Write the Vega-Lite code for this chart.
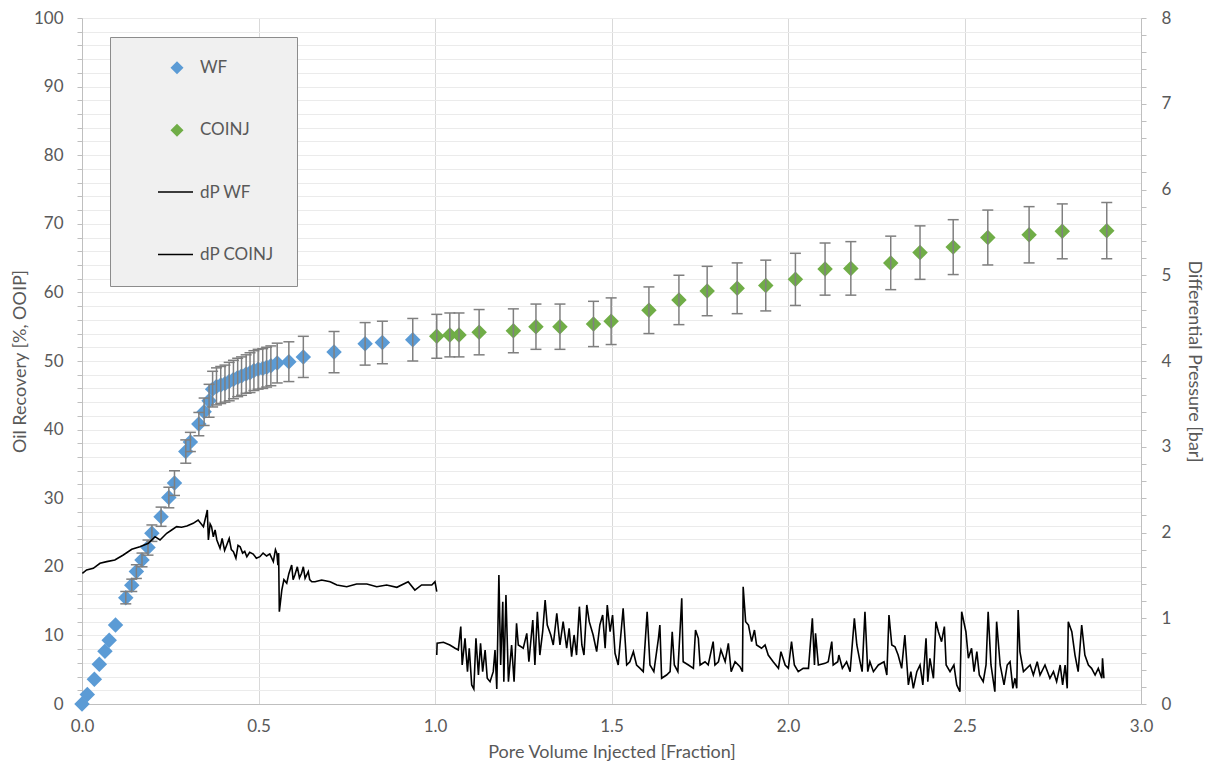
{
  "$schema": "https://vega.github.io/schema/vega-lite/v6.json",
  "width": 1059,
  "height": 686,
  "autosize": {"type": "none"},
  "padding": {"left": 82, "top": 18, "right": 69, "bottom": 61},
  "background": "white",
  "config": {
    "view": {"stroke": null},
    "scale": {"continuousPadding": 0},
    "axis": {
      "labelFont": "Lato", "titleFont": "Lato",
      "labelColor": "#595959", "titleColor": "#595959",
      "labelFontSize": 17, "titleFontSize": 18, "titleFontWeight": "normal",
      "domainColor": "#bfbfbf", "tickColor": "#bfbfbf", "gridColor": "#e6e6e6",
      "labelOverlap": false, "labelFlush": false
    },
    "legend": {"labelFont": "Lato", "labelFontSize": 17, "labelColor": "#595959"}
  },
  "datasets": {
    "rec": [
      {"x":0.000,"y":0.0,"lo":0.0,"hi":0.0,"series":"WF"},
      {"x":0.015,"y":1.4,"lo":1.4,"hi":1.4,"series":"WF"},
      {"x":0.035,"y":3.6,"lo":3.6,"hi":3.6,"series":"WF"},
      {"x":0.049,"y":5.8,"lo":5.8,"hi":5.8,"series":"WF"},
      {"x":0.065,"y":7.7,"lo":7.7,"hi":7.7,"series":"WF"},
      {"x":0.077,"y":9.3,"lo":9.3,"hi":9.3,"series":"WF"},
      {"x":0.095,"y":11.5,"lo":11.5,"hi":11.5,"series":"WF"},
      {"x":0.124,"y":15.5,"lo":14.6,"hi":16.4,"series":"WF"},
      {"x":0.141,"y":17.3,"lo":16.4,"hi":18.2,"series":"WF"},
      {"x":0.154,"y":19.3,"lo":18.3,"hi":20.3,"series":"WF"},
      {"x":0.170,"y":21.0,"lo":20.0,"hi":22.0,"series":"WF"},
      {"x":0.187,"y":22.8,"lo":21.7,"hi":23.9,"series":"WF"},
      {"x":0.198,"y":24.9,"lo":23.7,"hi":26.1,"series":"WF"},
      {"x":0.224,"y":27.3,"lo":25.9,"hi":28.7,"series":"WF"},
      {"x":0.246,"y":30.1,"lo":28.6,"hi":31.6,"series":"WF"},
      {"x":0.262,"y":32.2,"lo":30.4,"hi":34.0,"series":"WF"},
      {"x":0.294,"y":36.8,"lo":35.1,"hi":38.5,"series":"WF"},
      {"x":0.307,"y":38.2,"lo":36.8,"hi":39.6,"series":"WF"},
      {"x":0.331,"y":40.8,"lo":39.1,"hi":42.5,"series":"WF"},
      {"x":0.346,"y":42.6,"lo":40.6,"hi":44.6,"series":"WF"},
      {"x":0.360,"y":44.2,"lo":41.8,"hi":46.6,"series":"WF"},
      {"x":0.370,"y":45.9,"lo":43.3,"hi":48.5,"series":"WF"},
      {"x":0.381,"y":46.3,"lo":43.6,"hi":49.0,"series":"WF"},
      {"x":0.393,"y":46.5,"lo":43.8,"hi":49.2,"series":"WF"},
      {"x":0.405,"y":46.7,"lo":44.0,"hi":49.4,"series":"WF"},
      {"x":0.417,"y":47.0,"lo":44.2,"hi":49.8,"series":"WF"},
      {"x":0.429,"y":47.3,"lo":44.5,"hi":50.1,"series":"WF"},
      {"x":0.441,"y":47.6,"lo":44.8,"hi":50.4,"series":"WF"},
      {"x":0.452,"y":47.8,"lo":45.0,"hi":50.6,"series":"WF"},
      {"x":0.465,"y":48.1,"lo":45.3,"hi":50.9,"series":"WF"},
      {"x":0.476,"y":48.3,"lo":45.4,"hi":51.2,"series":"WF"},
      {"x":0.487,"y":48.6,"lo":45.7,"hi":51.5,"series":"WF"},
      {"x":0.499,"y":48.8,"lo":45.9,"hi":51.7,"series":"WF"},
      {"x":0.512,"y":48.9,"lo":46.0,"hi":51.8,"series":"WF"},
      {"x":0.523,"y":49.1,"lo":46.2,"hi":52.0,"series":"WF"},
      {"x":0.535,"y":49.3,"lo":46.4,"hi":52.2,"series":"WF"},
      {"x":0.553,"y":49.7,"lo":46.8,"hi":52.6,"series":"WF"},
      {"x":0.586,"y":49.9,"lo":47.0,"hi":52.8,"series":"WF"},
      {"x":0.627,"y":50.6,"lo":47.6,"hi":53.6,"series":"WF"},
      {"x":0.714,"y":51.3,"lo":48.3,"hi":54.3,"series":"WF"},
      {"x":0.802,"y":52.5,"lo":49.4,"hi":55.6,"series":"WF"},
      {"x":0.851,"y":52.7,"lo":49.6,"hi":55.8,"series":"WF"},
      {"x":0.937,"y":53.1,"lo":50.0,"hi":56.2,"series":"WF"},
      {"x":1.005,"y":53.6,"lo":50.4,"hi":56.8,"series":"COINJ"},
      {"x":1.042,"y":53.8,"lo":50.6,"hi":57.0,"series":"COINJ"},
      {"x":1.068,"y":53.8,"lo":50.6,"hi":57.0,"series":"COINJ"},
      {"x":1.125,"y":54.2,"lo":50.9,"hi":57.5,"series":"COINJ"},
      {"x":1.222,"y":54.4,"lo":51.2,"hi":57.6,"series":"COINJ"},
      {"x":1.286,"y":55.0,"lo":51.7,"hi":58.3,"series":"COINJ"},
      {"x":1.354,"y":55.0,"lo":51.7,"hi":58.3,"series":"COINJ"},
      {"x":1.449,"y":55.4,"lo":52.1,"hi":58.7,"series":"COINJ"},
      {"x":1.499,"y":55.8,"lo":52.4,"hi":59.2,"series":"COINJ"},
      {"x":1.606,"y":57.4,"lo":54.0,"hi":60.8,"series":"COINJ"},
      {"x":1.691,"y":58.9,"lo":55.3,"hi":62.5,"series":"COINJ"},
      {"x":1.771,"y":60.2,"lo":56.6,"hi":63.8,"series":"COINJ"},
      {"x":1.856,"y":60.6,"lo":56.9,"hi":64.3,"series":"COINJ"},
      {"x":1.937,"y":61.0,"lo":57.3,"hi":64.7,"series":"COINJ"},
      {"x":2.021,"y":61.9,"lo":58.1,"hi":65.7,"series":"COINJ"},
      {"x":2.105,"y":63.4,"lo":59.6,"hi":67.2,"series":"COINJ"},
      {"x":2.178,"y":63.5,"lo":59.6,"hi":67.4,"series":"COINJ"},
      {"x":2.291,"y":64.3,"lo":60.4,"hi":68.2,"series":"COINJ"},
      {"x":2.374,"y":65.8,"lo":61.9,"hi":69.7,"series":"COINJ"},
      {"x":2.468,"y":66.6,"lo":62.6,"hi":70.6,"series":"COINJ"},
      {"x":2.566,"y":68.0,"lo":64.0,"hi":72.0,"series":"COINJ"},
      {"x":2.683,"y":68.4,"lo":64.3,"hi":72.5,"series":"COINJ"},
      {"x":2.777,"y":68.9,"lo":64.9,"hi":72.9,"series":"COINJ"},
      {"x":2.903,"y":69.0,"lo":64.9,"hi":73.1,"series":"COINJ"}
    ],
    "dp": [
      {"x":0.001,"dp":1.524,"series":"dP WF"},
      {"x":0.013,"dp":1.563,"series":"dP WF"},
      {"x":0.032,"dp":1.582,"series":"dP WF"},
      {"x":0.051,"dp":1.641,"series":"dP WF"},
      {"x":0.070,"dp":1.660,"series":"dP WF"},
      {"x":0.093,"dp":1.679,"series":"dP WF"},
      {"x":0.117,"dp":1.738,"series":"dP WF"},
      {"x":0.141,"dp":1.804,"series":"dP WF"},
      {"x":0.164,"dp":1.834,"series":"dP WF"},
      {"x":0.188,"dp":1.874,"series":"dP WF"},
      {"x":0.207,"dp":1.951,"series":"dP WF"},
      {"x":0.221,"dp":1.913,"series":"dP WF"},
      {"x":0.240,"dp":1.991,"series":"dP WF"},
      {"x":0.254,"dp":2.029,"series":"dP WF"},
      {"x":0.268,"dp":2.068,"series":"dP WF"},
      {"x":0.282,"dp":2.061,"series":"dP WF"},
      {"x":0.297,"dp":2.076,"series":"dP WF"},
      {"x":0.315,"dp":2.107,"series":"dP WF"},
      {"x":0.329,"dp":2.146,"series":"dP WF"},
      {"x":0.344,"dp":2.068,"series":"dP WF"},
      {"x":0.353,"dp":2.224,"series":"dP WF"},
      {"x":0.355,"dp":2.262,"series":"dP WF"},
      {"x":0.358,"dp":1.913,"series":"dP WF"},
      {"x":0.363,"dp":2.100,"series":"dP WF"},
      {"x":0.367,"dp":2.068,"series":"dP WF"},
      {"x":0.372,"dp":1.950,"series":"dP WF"},
      {"x":0.377,"dp":2.030,"series":"dP WF"},
      {"x":0.382,"dp":1.913,"series":"dP WF"},
      {"x":0.391,"dp":1.816,"series":"dP WF"},
      {"x":0.397,"dp":1.930,"series":"dP WF"},
      {"x":0.404,"dp":1.790,"series":"dP WF"},
      {"x":0.410,"dp":1.854,"series":"dP WF"},
      {"x":0.417,"dp":1.930,"series":"dP WF"},
      {"x":0.423,"dp":1.800,"series":"dP WF"},
      {"x":0.429,"dp":1.776,"series":"dP WF"},
      {"x":0.436,"dp":1.700,"series":"dP WF"},
      {"x":0.442,"dp":1.850,"series":"dP WF"},
      {"x":0.448,"dp":1.834,"series":"dP WF"},
      {"x":0.455,"dp":1.760,"series":"dP WF"},
      {"x":0.461,"dp":1.780,"series":"dP WF"},
      {"x":0.467,"dp":1.718,"series":"dP WF"},
      {"x":0.475,"dp":1.770,"series":"dP WF"},
      {"x":0.485,"dp":1.749,"series":"dP WF"},
      {"x":0.494,"dp":1.700,"series":"dP WF"},
      {"x":0.504,"dp":1.718,"series":"dP WF"},
      {"x":0.513,"dp":1.760,"series":"dP WF"},
      {"x":0.523,"dp":1.726,"series":"dP WF"},
      {"x":0.532,"dp":1.750,"series":"dP WF"},
      {"x":0.542,"dp":1.660,"series":"dP WF"},
      {"x":0.548,"dp":1.800,"series":"dP WF"},
      {"x":0.552,"dp":1.757,"series":"dP WF"},
      {"x":0.555,"dp":1.620,"series":"dP WF"},
      {"x":0.557,"dp":1.760,"series":"dP WF"},
      {"x":0.559,"dp":1.076,"series":"dP WF"},
      {"x":0.566,"dp":1.329,"series":"dP WF"},
      {"x":0.572,"dp":1.450,"series":"dP WF"},
      {"x":0.580,"dp":1.408,"series":"dP WF"},
      {"x":0.586,"dp":1.520,"series":"dP WF"},
      {"x":0.594,"dp":1.621,"series":"dP WF"},
      {"x":0.598,"dp":1.450,"series":"dP WF"},
      {"x":0.603,"dp":1.504,"series":"dP WF"},
      {"x":0.610,"dp":1.600,"series":"dP WF"},
      {"x":0.616,"dp":1.470,"series":"dP WF"},
      {"x":0.622,"dp":1.524,"series":"dP WF"},
      {"x":0.627,"dp":1.600,"series":"dP WF"},
      {"x":0.632,"dp":1.466,"series":"dP WF"},
      {"x":0.641,"dp":1.543,"series":"dP WF"},
      {"x":0.645,"dp":1.450,"series":"dP WF"},
      {"x":0.651,"dp":1.426,"series":"dP WF"},
      {"x":0.660,"dp":1.426,"series":"dP WF"},
      {"x":0.679,"dp":1.446,"series":"dP WF"},
      {"x":0.703,"dp":1.426,"series":"dP WF"},
      {"x":0.722,"dp":1.388,"series":"dP WF"},
      {"x":0.750,"dp":1.368,"series":"dP WF"},
      {"x":0.778,"dp":1.399,"series":"dP WF"},
      {"x":0.807,"dp":1.399,"series":"dP WF"},
      {"x":0.835,"dp":1.368,"series":"dP WF"},
      {"x":0.863,"dp":1.388,"series":"dP WF"},
      {"x":0.892,"dp":1.361,"series":"dP WF"},
      {"x":0.924,"dp":1.426,"series":"dP WF"},
      {"x":0.943,"dp":1.329,"series":"dP WF"},
      {"x":0.962,"dp":1.388,"series":"dP WF"},
      {"x":0.991,"dp":1.388,"series":"dP WF"},
      {"x":1.000,"dp":1.426,"series":"dP WF"},
      {"x":1.005,"dp":1.310,"series":"dP WF"},
      {"x":1.005,"dp":0.571,"series":"dP COINJ"},
      {"x":1.006,"dp":0.708,"series":"dP COINJ"},
      {"x":1.024,"dp":0.720,"series":"dP COINJ"},
      {"x":1.042,"dp":0.688,"series":"dP COINJ"},
      {"x":1.057,"dp":0.650,"series":"dP COINJ"},
      {"x":1.066,"dp":0.630,"series":"dP COINJ"},
      {"x":1.073,"dp":0.902,"series":"dP COINJ"},
      {"x":1.077,"dp":0.455,"series":"dP COINJ"},
      {"x":1.085,"dp":0.766,"series":"dP COINJ"},
      {"x":1.092,"dp":0.377,"series":"dP COINJ"},
      {"x":1.097,"dp":0.650,"series":"dP COINJ"},
      {"x":1.104,"dp":0.222,"series":"dP COINJ"},
      {"x":1.110,"dp":0.175,"series":"dP COINJ"},
      {"x":1.116,"dp":0.766,"series":"dP COINJ"},
      {"x":1.123,"dp":0.338,"series":"dP COINJ"},
      {"x":1.129,"dp":0.708,"series":"dP COINJ"},
      {"x":1.135,"dp":0.377,"series":"dP COINJ"},
      {"x":1.142,"dp":0.630,"series":"dP COINJ"},
      {"x":1.148,"dp":0.300,"series":"dP COINJ"},
      {"x":1.156,"dp":0.260,"series":"dP COINJ"},
      {"x":1.165,"dp":0.377,"series":"dP COINJ"},
      {"x":1.170,"dp":0.630,"series":"dP COINJ"},
      {"x":1.175,"dp":0.175,"series":"dP COINJ"},
      {"x":1.181,"dp":1.504,"series":"dP COINJ"},
      {"x":1.186,"dp":0.455,"series":"dP COINJ"},
      {"x":1.192,"dp":1.193,"series":"dP COINJ"},
      {"x":1.195,"dp":0.260,"series":"dP COINJ"},
      {"x":1.201,"dp":1.271,"series":"dP COINJ"},
      {"x":1.208,"dp":0.260,"series":"dP COINJ"},
      {"x":1.217,"dp":0.688,"series":"dP COINJ"},
      {"x":1.224,"dp":0.260,"series":"dP COINJ"},
      {"x":1.231,"dp":0.941,"series":"dP COINJ"},
      {"x":1.236,"dp":0.688,"series":"dP COINJ"},
      {"x":1.250,"dp":0.650,"series":"dP COINJ"},
      {"x":1.260,"dp":0.824,"series":"dP COINJ"},
      {"x":1.266,"dp":0.493,"series":"dP COINJ"},
      {"x":1.277,"dp":0.980,"series":"dP COINJ"},
      {"x":1.283,"dp":0.455,"series":"dP COINJ"},
      {"x":1.290,"dp":1.076,"series":"dP COINJ"},
      {"x":1.297,"dp":0.571,"series":"dP COINJ"},
      {"x":1.305,"dp":0.843,"series":"dP COINJ"},
      {"x":1.312,"dp":1.213,"series":"dP COINJ"},
      {"x":1.318,"dp":0.921,"series":"dP COINJ"},
      {"x":1.328,"dp":0.805,"series":"dP COINJ"},
      {"x":1.335,"dp":0.688,"series":"dP COINJ"},
      {"x":1.345,"dp":1.058,"series":"dP COINJ"},
      {"x":1.354,"dp":0.688,"series":"dP COINJ"},
      {"x":1.363,"dp":0.960,"series":"dP COINJ"},
      {"x":1.373,"dp":0.650,"series":"dP COINJ"},
      {"x":1.380,"dp":0.883,"series":"dP COINJ"},
      {"x":1.387,"dp":0.552,"series":"dP COINJ"},
      {"x":1.394,"dp":0.805,"series":"dP COINJ"},
      {"x":1.401,"dp":0.571,"series":"dP COINJ"},
      {"x":1.409,"dp":1.135,"series":"dP COINJ"},
      {"x":1.416,"dp":0.688,"series":"dP COINJ"},
      {"x":1.422,"dp":0.571,"series":"dP COINJ"},
      {"x":1.430,"dp":1.155,"series":"dP COINJ"},
      {"x":1.437,"dp":0.960,"series":"dP COINJ"},
      {"x":1.448,"dp":0.805,"series":"dP COINJ"},
      {"x":1.458,"dp":0.610,"series":"dP COINJ"},
      {"x":1.467,"dp":0.921,"series":"dP COINJ"},
      {"x":1.475,"dp":1.038,"series":"dP COINJ"},
      {"x":1.482,"dp":0.650,"series":"dP COINJ"},
      {"x":1.488,"dp":1.155,"series":"dP COINJ"},
      {"x":1.496,"dp":0.843,"series":"dP COINJ"},
      {"x":1.503,"dp":1.038,"series":"dP COINJ"},
      {"x":1.510,"dp":0.591,"series":"dP COINJ"},
      {"x":1.519,"dp":0.455,"series":"dP COINJ"},
      {"x":1.533,"dp":1.116,"series":"dP COINJ"},
      {"x":1.543,"dp":0.455,"series":"dP COINJ"},
      {"x":1.552,"dp":0.493,"series":"dP COINJ"},
      {"x":1.562,"dp":0.610,"series":"dP COINJ"},
      {"x":1.571,"dp":0.455,"series":"dP COINJ"},
      {"x":1.581,"dp":0.416,"series":"dP COINJ"},
      {"x":1.590,"dp":0.377,"series":"dP COINJ"},
      {"x":1.601,"dp":1.076,"series":"dP COINJ"},
      {"x":1.609,"dp":0.455,"series":"dP COINJ"},
      {"x":1.620,"dp":0.377,"series":"dP COINJ"},
      {"x":1.633,"dp":0.766,"series":"dP COINJ"},
      {"x":1.637,"dp":0.921,"series":"dP COINJ"},
      {"x":1.642,"dp":0.300,"series":"dP COINJ"},
      {"x":1.656,"dp":0.338,"series":"dP COINJ"},
      {"x":1.666,"dp":0.377,"series":"dP COINJ"},
      {"x":1.672,"dp":0.843,"series":"dP COINJ"},
      {"x":1.678,"dp":0.455,"series":"dP COINJ"},
      {"x":1.688,"dp":0.377,"series":"dP COINJ"},
      {"x":1.699,"dp":1.233,"series":"dP COINJ"},
      {"x":1.703,"dp":0.493,"series":"dP COINJ"},
      {"x":1.718,"dp":0.455,"series":"dP COINJ"},
      {"x":1.732,"dp":0.416,"series":"dP COINJ"},
      {"x":1.738,"dp":0.863,"series":"dP COINJ"},
      {"x":1.746,"dp":0.766,"series":"dP COINJ"},
      {"x":1.751,"dp":0.455,"series":"dP COINJ"},
      {"x":1.765,"dp":0.493,"series":"dP COINJ"},
      {"x":1.774,"dp":0.455,"series":"dP COINJ"},
      {"x":1.788,"dp":0.727,"series":"dP COINJ"},
      {"x":1.793,"dp":0.455,"series":"dP COINJ"},
      {"x":1.803,"dp":0.493,"series":"dP COINJ"},
      {"x":1.810,"dp":0.630,"series":"dP COINJ"},
      {"x":1.822,"dp":0.493,"series":"dP COINJ"},
      {"x":1.831,"dp":0.708,"series":"dP COINJ"},
      {"x":1.839,"dp":0.377,"series":"dP COINJ"},
      {"x":1.850,"dp":0.493,"series":"dP COINJ"},
      {"x":1.864,"dp":0.435,"series":"dP COINJ"},
      {"x":1.871,"dp":0.377,"series":"dP COINJ"},
      {"x":1.873,"dp":1.368,"series":"dP COINJ"},
      {"x":1.880,"dp":0.960,"series":"dP COINJ"},
      {"x":1.888,"dp":0.921,"series":"dP COINJ"},
      {"x":1.897,"dp":0.727,"series":"dP COINJ"},
      {"x":1.905,"dp":0.863,"series":"dP COINJ"},
      {"x":1.911,"dp":0.688,"series":"dP COINJ"},
      {"x":1.925,"dp":0.650,"series":"dP COINJ"},
      {"x":1.935,"dp":0.688,"series":"dP COINJ"},
      {"x":1.944,"dp":0.571,"series":"dP COINJ"},
      {"x":1.958,"dp":0.493,"series":"dP COINJ"},
      {"x":1.973,"dp":0.416,"series":"dP COINJ"},
      {"x":1.980,"dp":0.610,"series":"dP COINJ"},
      {"x":1.992,"dp":0.455,"series":"dP COINJ"},
      {"x":2.001,"dp":0.416,"series":"dP COINJ"},
      {"x":2.010,"dp":0.727,"series":"dP COINJ"},
      {"x":2.018,"dp":0.455,"series":"dP COINJ"},
      {"x":2.029,"dp":0.377,"series":"dP COINJ"},
      {"x":2.043,"dp":0.416,"series":"dP COINJ"},
      {"x":2.058,"dp":0.416,"series":"dP COINJ"},
      {"x":2.069,"dp":0.999,"series":"dP COINJ"},
      {"x":2.075,"dp":0.455,"series":"dP COINJ"},
      {"x":2.078,"dp":0.824,"series":"dP COINJ"},
      {"x":2.086,"dp":0.455,"series":"dP COINJ"},
      {"x":2.105,"dp":0.474,"series":"dP COINJ"},
      {"x":2.114,"dp":0.493,"series":"dP COINJ"},
      {"x":2.124,"dp":0.727,"series":"dP COINJ"},
      {"x":2.128,"dp":0.455,"series":"dP COINJ"},
      {"x":2.141,"dp":0.493,"series":"dP COINJ"},
      {"x":2.144,"dp":0.571,"series":"dP COINJ"},
      {"x":2.154,"dp":0.416,"series":"dP COINJ"},
      {"x":2.166,"dp":0.493,"series":"dP COINJ"},
      {"x":2.176,"dp":0.377,"series":"dP COINJ"},
      {"x":2.188,"dp":0.999,"series":"dP COINJ"},
      {"x":2.195,"dp":0.688,"series":"dP COINJ"},
      {"x":2.204,"dp":0.493,"series":"dP COINJ"},
      {"x":2.210,"dp":0.377,"series":"dP COINJ"},
      {"x":2.218,"dp":1.076,"series":"dP COINJ"},
      {"x":2.226,"dp":0.377,"series":"dP COINJ"},
      {"x":2.232,"dp":0.493,"series":"dP COINJ"},
      {"x":2.242,"dp":0.377,"series":"dP COINJ"},
      {"x":2.256,"dp":0.455,"series":"dP COINJ"},
      {"x":2.272,"dp":0.493,"series":"dP COINJ"},
      {"x":2.280,"dp":0.338,"series":"dP COINJ"},
      {"x":2.286,"dp":1.038,"series":"dP COINJ"},
      {"x":2.294,"dp":0.688,"series":"dP COINJ"},
      {"x":2.303,"dp":0.668,"series":"dP COINJ"},
      {"x":2.312,"dp":0.571,"series":"dP COINJ"},
      {"x":2.322,"dp":0.416,"series":"dP COINJ"},
      {"x":2.331,"dp":0.805,"series":"dP COINJ"},
      {"x":2.341,"dp":0.222,"series":"dP COINJ"},
      {"x":2.348,"dp":0.377,"series":"dP COINJ"},
      {"x":2.355,"dp":0.183,"series":"dP COINJ"},
      {"x":2.365,"dp":0.377,"series":"dP COINJ"},
      {"x":2.374,"dp":0.455,"series":"dP COINJ"},
      {"x":2.382,"dp":0.222,"series":"dP COINJ"},
      {"x":2.391,"dp":0.766,"series":"dP COINJ"},
      {"x":2.396,"dp":0.260,"series":"dP COINJ"},
      {"x":2.402,"dp":0.533,"series":"dP COINJ"},
      {"x":2.412,"dp":0.300,"series":"dP COINJ"},
      {"x":2.419,"dp":0.960,"series":"dP COINJ"},
      {"x":2.426,"dp":0.843,"series":"dP COINJ"},
      {"x":2.435,"dp":0.727,"series":"dP COINJ"},
      {"x":2.443,"dp":0.902,"series":"dP COINJ"},
      {"x":2.448,"dp":0.455,"series":"dP COINJ"},
      {"x":2.459,"dp":0.377,"series":"dP COINJ"},
      {"x":2.470,"dp":0.455,"series":"dP COINJ"},
      {"x":2.478,"dp":0.222,"series":"dP COINJ"},
      {"x":2.487,"dp":0.143,"series":"dP COINJ"},
      {"x":2.492,"dp":1.076,"series":"dP COINJ"},
      {"x":2.504,"dp":0.843,"series":"dP COINJ"},
      {"x":2.511,"dp":0.533,"series":"dP COINJ"},
      {"x":2.520,"dp":0.650,"series":"dP COINJ"},
      {"x":2.527,"dp":0.377,"series":"dP COINJ"},
      {"x":2.535,"dp":0.610,"series":"dP COINJ"},
      {"x":2.542,"dp":0.338,"series":"dP COINJ"},
      {"x":2.553,"dp":0.260,"series":"dP COINJ"},
      {"x":2.561,"dp":0.455,"series":"dP COINJ"},
      {"x":2.567,"dp":1.076,"series":"dP COINJ"},
      {"x":2.575,"dp":0.455,"series":"dP COINJ"},
      {"x":2.586,"dp":0.143,"series":"dP COINJ"},
      {"x":2.591,"dp":0.960,"series":"dP COINJ"},
      {"x":2.601,"dp":0.455,"series":"dP COINJ"},
      {"x":2.612,"dp":0.222,"series":"dP COINJ"},
      {"x":2.621,"dp":0.455,"series":"dP COINJ"},
      {"x":2.629,"dp":0.493,"series":"dP COINJ"},
      {"x":2.637,"dp":0.183,"series":"dP COINJ"},
      {"x":2.643,"dp":0.300,"series":"dP COINJ"},
      {"x":2.648,"dp":0.183,"series":"dP COINJ"},
      {"x":2.652,"dp":1.096,"series":"dP COINJ"},
      {"x":2.657,"dp":0.610,"series":"dP COINJ"},
      {"x":2.667,"dp":0.377,"series":"dP COINJ"},
      {"x":2.686,"dp":0.455,"series":"dP COINJ"},
      {"x":2.695,"dp":0.338,"series":"dP COINJ"},
      {"x":2.706,"dp":0.493,"series":"dP COINJ"},
      {"x":2.714,"dp":0.338,"series":"dP COINJ"},
      {"x":2.728,"dp":0.455,"series":"dP COINJ"},
      {"x":2.742,"dp":0.300,"series":"dP COINJ"},
      {"x":2.752,"dp":0.377,"series":"dP COINJ"},
      {"x":2.761,"dp":0.260,"series":"dP COINJ"},
      {"x":2.771,"dp":0.455,"series":"dP COINJ"},
      {"x":2.778,"dp":0.222,"series":"dP COINJ"},
      {"x":2.785,"dp":0.455,"series":"dP COINJ"},
      {"x":2.791,"dp":0.183,"series":"dP COINJ"},
      {"x":2.794,"dp":0.960,"series":"dP COINJ"},
      {"x":2.804,"dp":0.843,"series":"dP COINJ"},
      {"x":2.813,"dp":0.571,"series":"dP COINJ"},
      {"x":2.822,"dp":0.377,"series":"dP COINJ"},
      {"x":2.832,"dp":0.921,"series":"dP COINJ"},
      {"x":2.841,"dp":0.571,"series":"dP COINJ"},
      {"x":2.851,"dp":0.455,"series":"dP COINJ"},
      {"x":2.860,"dp":0.416,"series":"dP COINJ"},
      {"x":2.870,"dp":0.338,"series":"dP COINJ"},
      {"x":2.879,"dp":0.416,"series":"dP COINJ"},
      {"x":2.889,"dp":0.300,"series":"dP COINJ"},
      {"x":2.891,"dp":0.533,"series":"dP COINJ"},
      {"x":2.895,"dp":0.300,"series":"dP COINJ"}
    ]
  },
  "layer": [
    {
      "layer": [
        {
          "data": {"name": "rec"},
          "mark": {"type": "point", "shape": "diamond", "filled": true, "size": 240, "opacity": 1, "strokeWidth": 0},
          "encoding": {
            "x": {
              "field": "x", "type": "quantitative",
              "scale": {"domain": [0, 3], "nice": false, "zero": false, "padding": 0},
              "axis": {
                "values": [0, 0.5, 1, 1.5, 2, 2.5, 3], "format": ".1f", "tickCount": 100,
                "title": "Pore Volume Injected [Fraction]",
                "grid": true, "gridColor": "#d9d9d9", "ticks": false,
                "labelPadding": 14, "titlePadding": 9, "labelOverlap": false, "labelFlush": false
              }
            },
            "y": {
              "field": "y", "type": "quantitative",
              "scale": {"domain": [0, 100], "nice": false, "padding": 0},
              "axis": {
                "values": [0,2,4,6,8,10,12,14,16,18,20,22,24,26,28,30,32,34,36,38,40,42,44,46,48,50,52,54,56,58,60,62,64,66,68,70,72,74,76,78,80,82,84,86,88,90,92,94,96,98,100],
                "tickCount": 100,
                "labelExpr": "datum.value % 10 === 0 ? format(datum.value, 'd') : ''",
                "title": "Oil Recovery [%, OOIP]",
                "tickSize": 5, "labelPadding": 14, "titlePadding": 4,
                "grid": true, "gridColor": "#ebebeb", "labelOverlap": false
              }
            },
            "fill": {
              "field": "series", "type": "nominal",
              "scale": {"domain": ["WF", "COINJ"], "range": ["#5B9BD5", "#70AD47"]},
              "legend": {
                "orient": "none", "legendX": 86.5, "legendY": 41.7, "title": null, "zindex": 2,
                "padding": 0, "clipHeight": 16, "rowPadding": 45.5,
                "symbolType": "diamond", "symbolSize": 170, "symbolStrokeWidth": 0,
                "labelExpr": "''"
              }
            },
            "stroke": {
              "field": "series", "type": "nominal",
              "scale": {"domain": ["WF", "COINJ", "dP WF", "dP COINJ"], "range": ["transparent", "transparent", "transparent", "transparent"]},
              "legend": {
                "orient": "none", "legendX": 28, "legendY": 19, "title": null, "zindex": 0,
                "padding": 22.5, "clipHeight": 16, "rowPadding": 45.5,
                "fillColor": "#f0f0f0", "strokeColor": "#8c8c8c",
                "symbolType": "square", "symbolSize": 100, "symbolStrokeWidth": 1,
                "symbolFillColor": "#f0f0f0",
                "symbolOffset": 168.5, "labelOffset": -118,
                "labelExpr": "datum.label + '\u00a0\u00a0\u00a0\u00a0\u00a0\u00a0\u00a0\u00a0\u00a0\u00a0\u00a0\u00a0\u00a0'"
              }
            }
          }
        },
        {
          "data": {"name": "rec"},
          "transform": [{"filter": "datum.hi > datum.lo"}],
          "mark": {"type": "rule", "color": "#7f7f7f", "strokeWidth": 1.5},
          "encoding": {
            "x": {"field": "x", "type": "quantitative", "scale": {"padding": 0}},
            "y": {"field": "lo", "type": "quantitative", "axis": {"title": "Oil Recovery [%, OOIP]"}},
            "y2": {"field": "hi"}
          }
        },
        {
          "data": {"name": "rec"},
          "transform": [{"filter": "datum.hi > datum.lo"}, {"fold": ["lo", "hi"], "as": ["end", "val"]}],
          "mark": {"type": "tick", "orient": "horizontal", "color": "#7f7f7f", "size": 11, "thickness": 1.5, "opacity": 1},
          "encoding": {
            "x": {"field": "x", "type": "quantitative", "scale": {"padding": 0}},
            "y": {"field": "val", "type": "quantitative", "axis": {"title": "Oil Recovery [%, OOIP]"}}
          }
        }
      ]
    },
    {
      "data": {"name": "dp"},
      "mark": {"type": "line", "strokeWidth": 1.6},
      "encoding": {
        "x": {"field": "x", "type": "quantitative", "scale": {"padding": 0}},
        "y": {
          "field": "dp", "type": "quantitative",
          "scale": {"domain": [0, 8], "nice": false, "padding": 0},
          "axis": {
            "orient": "right",
            "values": [0,0.2,0.4,0.6,0.8,1,1.2,1.4,1.6,1.8,2,2.2,2.4,2.6,2.8,3,3.2,3.4,3.6,3.8,4,4.2,4.4,4.6,4.8,5,5.2,5.4,5.6,5.8,6,6.2,6.4,6.6,6.8,7,7.2,7.4,7.6,7.8,8],
            "tickCount": 100,
            "labelExpr": "abs(datum.value - round(datum.value)) < 0.01 ? format(round(datum.value), 'd') : ''",
            "title": "Differential Pressure [bar]",
            "grid": false, "tickSize": 5, "labelPadding": 15, "titlePadding": 14, "labelOverlap": false
          }
        },
        "color": {
          "field": "series", "type": "nominal",
          "scale": {"domain": ["dP WF", "dP COINJ"], "range": ["#000000", "#000000"]},
          "legend": {
            "orient": "none", "legendX": 75, "legendY": 166, "title": null, "zindex": 2,
            "padding": 0, "clipHeight": 16, "rowPadding": 45.5,
            "symbolType": "stroke", "symbolSize": 1225, "symbolStrokeWidth": 1.5,
            "labelExpr": "''"
          }
        }
      }
    }
  ],
  "resolve": {"scale": {"y": "independent"}}
}
